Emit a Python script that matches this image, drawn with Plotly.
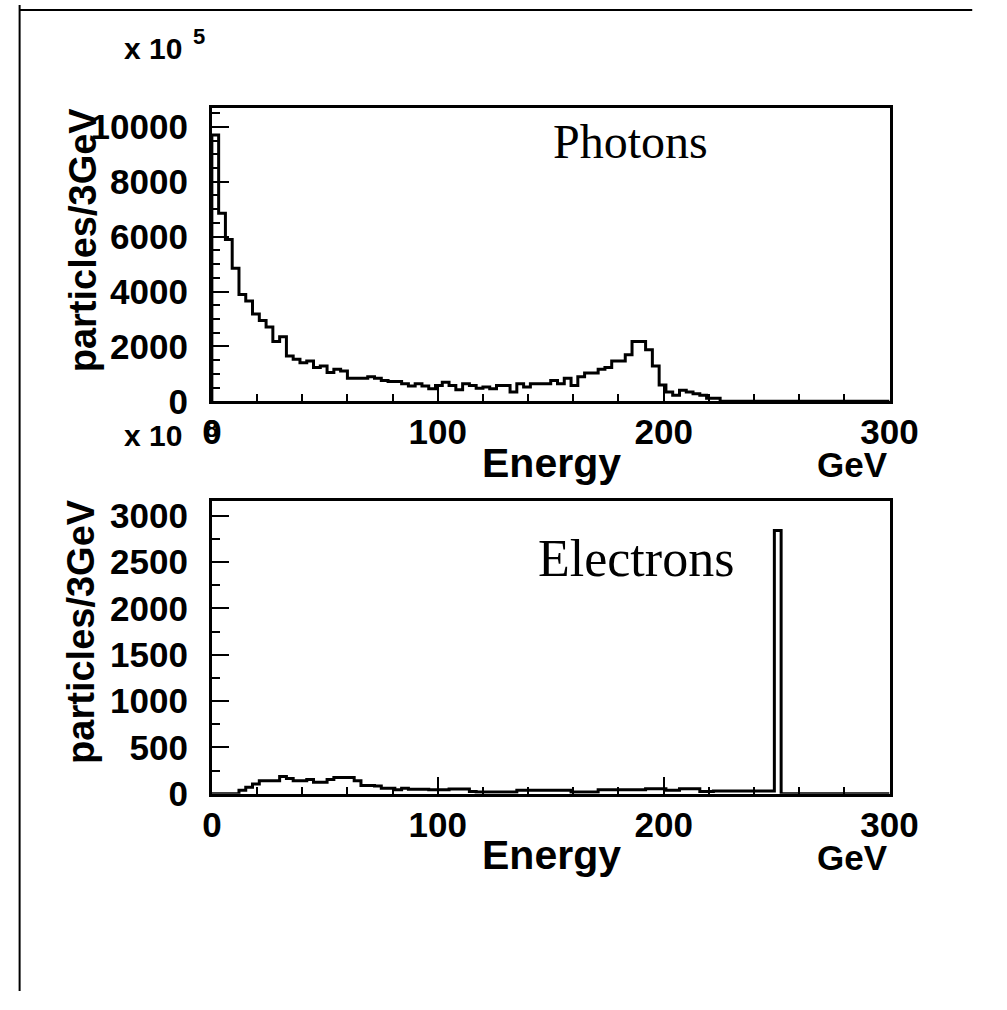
import numpy as np
import plotly.graph_objects as go

# ---- data -------------------------------------------------------------
bin_edges = list(range(0, 301, 3))  # 3 GeV bins

photon_counts = [
    9700, 6850, 5900, 4850, 3890, 3660, 3180, 2950, 2710, 2180,
    2350, 1650, 1530, 1410, 1470, 1230, 1290, 1050, 1170, 1110,
    840, 840, 840, 900, 840, 760, 720, 720, 640, 560,
    640, 560, 460, 580, 700, 580, 420, 640, 580, 480,
    520, 460, 580, 580, 340, 640, 520, 640, 640, 640,
    760, 640, 840, 580, 900, 1030, 1030, 1170, 1230, 1470,
    1470, 1700, 2180, 2180, 1880, 1290, 600, 340, 220, 400,
    340, 280, 220, 110, 110, 0, 0, 0, 0, 0,
    0, 0, 0, 0, 0, 0, 0, 0, 0, 0,
    0, 0, 0, 0, 0, 0, 0, 0, 0, 0,
]

electron_counts = [
    0, 0, 0, 0, 37, 72, 107, 142, 142, 142,
    188, 166, 142, 142, 153, 124, 124, 153, 177, 177,
    177, 142, 89, 89, 83, 61, 61, 44, 61, 50,
    50, 50, 44, 44, 44, 52, 52, 52, 26, 19,
    19, 19, 19, 19, 19, 37, 37, 37, 37, 37,
    37, 37, 37, 19, 19, 19, 19, 44, 44, 44,
    44, 44, 44, 44, 55, 55, 55, 37, 37, 55,
    55, 55, 26, 26, 30, 30, 30, 30, 30, 30,
    30, 30, 30, 2840, 0, 0, 0, 0, 0, 0,
    0, 0, 0, 0, 0, 0, 0, 0, 0, 0,
]

x_tick_vals = [0, 100, 200, 300]
photon_y_ticks = [0, 2000, 4000, 6000, 8000, 10000]
electron_y_ticks = [0, 500, 1000, 1500, 2000, 2500, 3000]

# ---- figure ----------------------------------------------------------
W, H = 1007, 1010


def px(x):
    return x / W


def py(y):
    return 1 - y / H


def step_xy(counts):
    xs = [bin_edges[0]] + bin_edges
    ys = [0] + counts + [counts[-1]]
    return xs, ys


fig = go.Figure()
for counts, xa, ya in [(photon_counts, "x", "y"), (electron_counts, "x2", "y2")]:
    xs, ys = step_xy(counts)
    fig.add_trace(go.Scatter(
        x=xs, y=ys, mode="lines", line=dict(shape="hv", color="black", width=3),
        xaxis=xa, yaxis=ya, showlegend=False, hoverinfo="skip"))

tickfont = dict(family="Liberation Sans", size=35, color="black", weight="bold")

common_x = dict(
    range=[0, 300], tickvals=x_tick_vals, ticktext=[str(v) for v in x_tick_vals],
    ticks="inside", ticklen=17, tickwidth=2,
    tickcolor="black", showline=True, linecolor="black", linewidth=3, mirror=True,
    showgrid=False, zeroline=False, tickfont=tickfont, ticklabelstandoff=-2,
    minor=dict(dtick=20, ticks="inside", ticklen=7, tickwidth=2, tickcolor="black", showgrid=False),
)
common_y = dict(
    ticks="inside", ticklen=17, tickwidth=2, tickcolor="black", showline=True,
    linecolor="black", linewidth=3, mirror=True, showgrid=False, zeroline=False,
    tickfont=tickfont, ticklabelstandoff=14,
)

fig.update_layout(
    width=W, height=H, margin=dict(l=0, r=0, t=0, b=0),
    paper_bgcolor="white", plot_bgcolor="white",
    xaxis=dict(domain=[px(210), px(915)], anchor="y", **common_x),
    yaxis=dict(domain=[py(406), py(106)], anchor="x", range=[0, 10670],
               tickvals=photon_y_ticks, ticktext=[str(v) for v in photon_y_ticks],
               minor=dict(dtick=500, ticks="inside", ticklen=8, tickwidth=2, tickcolor="black", showgrid=False),
               **common_y),
    xaxis2=dict(domain=[px(210), px(915)], anchor="y2", **common_x),
    yaxis2=dict(domain=[py(808), py(508)], anchor="x2", range=[0, 3160],
                tickvals=electron_y_ticks, ticktext=[str(v) for v in electron_y_ticks],
                minor=dict(dtick=250, ticks="inside", ticklen=8, tickwidth=2, tickcolor="black", showgrid=False),
                **common_y),
)

bold = dict(family="Liberation Sans", color="black", weight="bold")
serif = dict(family="Liberation Serif", color="black")


def ann(text, x, y, font, size, xanchor="center", yanchor="middle", angle=0):
    fig.add_annotation(text=text, x=px(x), y=py(y), xref="paper", yref="paper",
                       showarrow=False, xanchor=xanchor, yanchor=yanchor,
                       textangle=angle, font=dict(size=size, **font))


for off in (0, 402):
    ann("Energy", 563, 469 + off, bold, 41)
    ann("GeV", 876, 471 + off, bold, 35)

ann("particles/3GeV", 76, 241, bold, 38, angle=-90)
ann("particles/3GeV", 74, 642, bold, 38, angle=-90)

ann("x 10", 181, 45, bold, 30, xanchor="right")
ann("5", 197, 32, bold, 22)
ann("x 10", 181, 441, bold, 30, xanchor="right")
ann("8", 210, 434, bold, 24)

ann("Photons", 646, 140, serif, 48)
ann("Electrons", 651, 567, serif, 52)

# page border
fig.add_shape(type="line", xref="paper", yref="paper", x0=px(10), x1=px(10), y0=0, y1=1,
              line=dict(color="black", width=2))
fig.add_shape(type="line", xref="paper", yref="paper", x0=px(10), x1=px(1001), y0=py(5), y1=py(5),
              line=dict(color="black", width=2))

fig.write_html("out.html", config={"responsive": False},
               post_script="document.body.style.margin='0';document.body.style.overflow='hidden';")
